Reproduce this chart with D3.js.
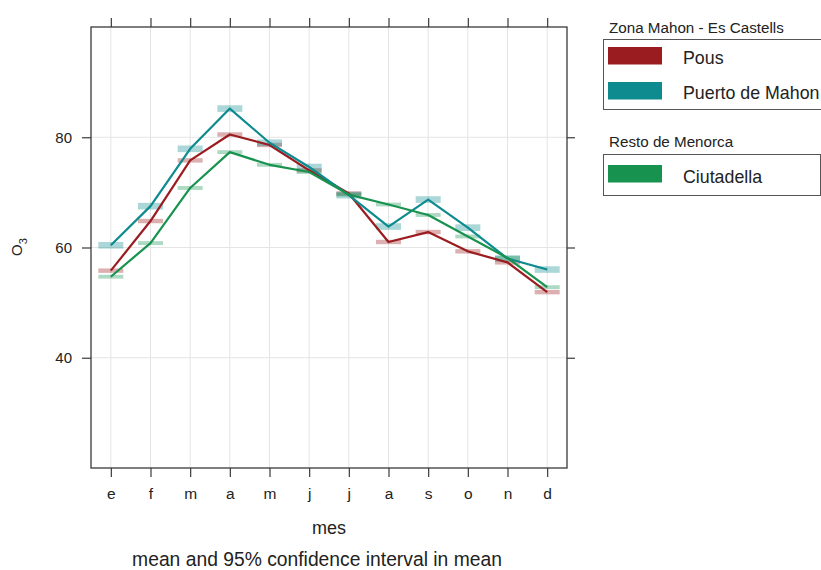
<!DOCTYPE html>
<html><head><meta charset="utf-8">
<script src="https://cdn.jsdelivr.net/npm/d3@7"></script>
<style>body{margin:0;background:#fff;}svg{display:block;font-family:Arial,"Liberation Sans",sans-serif;}</style>
</head><body>
<svg id="c" width="821" height="570"></svg>
<script>
const months = ["e","f","m","a","m","j","j","a","s","o","n","d"];
const yTicks = [40, 60, 80];
const seriesNames = ["Pous", "Puerto de Mahon", "Ciutadella"];
const seriesColors = ["#9b1c20", "#0d8b8f", "#17924f"];
const pous     = [55.8, 64.8, 75.8, 80.5, 78.6, 74.0, 69.8, 61.0, 62.8, 59.3, 57.3, 51.9];
const puerto   = [60.4, 67.5, 77.9, 85.2, 79.0, 74.6, 69.5, 63.8, 68.7, 63.6, 58.0, 56.0];
const ciut     = [54.7, 60.8, 70.8, 77.3, 75.0, 73.7, 69.6, 67.8, 65.9, 62.0, 58.1, 52.8];
const pousCI   = [0.4, 0.4, 0.4, 0.4, 0.4, 0.4, 0.4, 0.4, 0.4, 0.4, 0.4, 0.4];
const puertoCI = [0.6, 0.6, 0.6, 0.6, 0.6, 0.6, 0.6, 0.6, 0.6, 0.6, 0.6, 0.6];
const ciutCI   = [0.35, 0.35, 0.35, 0.35, 0.35, 0.35, 0.35, 0.35, 0.35, 0.35, 0.35, 0.35];
const legendGroups = ["Zona Mahon - Es Castells", "Resto de Menorca"];

const series = [
  {name: seriesNames[0], color: seriesColors[0], v: pous, ci: pousCI},
  {name: seriesNames[1], color: seriesColors[1], v: puerto, ci: puertoCI},
  {name: seriesNames[2], color: seriesColors[2], v: ciut, ci: ciutCI}
];

const svg = d3.select("#c");
const L = 91, R = 567, T = 27, B = 468;
const idx = months.map((m, i) => i);
const x = d3.scalePoint().domain(idx).range([L, R]).padding(0.5);
const y = d3.scaleLinear().domain([20, 100]).range([B, T]);

// grid
const g = svg.append("g");
g.selectAll("line.vg").data(idx).enter().append("line")
  .attr("x1", d => x(d)).attr("x2", d => x(d)).attr("y1", T).attr("y2", B)
  .attr("stroke", "#e4e4e4").attr("stroke-width", 1);
g.selectAll("line.hg").data(yTicks).enter().append("line")
  .attr("x1", L).attr("x2", R).attr("y1", d => y(d)).attr("y2", d => y(d))
  .attr("stroke", "#e4e4e4").attr("stroke-width", 1);

// CI bars
series.forEach(s => {
  g.selectAll(null).data(idx).enter().append("rect")
    .attr("x", d => x(d) - 12.5).attr("width", 25)
    .attr("y", d => y(s.v[d] + s.ci[d]))
    .attr("height", d => y(s.v[d] - s.ci[d]) - y(s.v[d] + s.ci[d]))
    .attr("fill", s.color).attr("fill-opacity", 0.35);
});

// lines
const line = d3.line().x(d => x(d.i)).y(d => y(d.v));
series.forEach(s => {
  g.append("path").datum(s.v.map((v, i) => ({i, v})))
    .attr("d", line).attr("fill", "none")
    .attr("stroke", s.color).attr("stroke-width", 2.2).attr("stroke-linejoin", "round");
});

// axes
const frameColor = "#3a3a3a";
const axB = d3.axisBottom(x).tickSize(9).tickFormat(d => months[d]);
const axT = d3.axisTop(x).tickSize(9).tickFormat("");
const axL = d3.axisLeft(y).tickValues(yTicks).tickSize(9);
const axR = d3.axisRight(y).tickValues(yTicks).tickSize(8).tickFormat("");
function styleAxis(sel) {
  sel.select(".domain").remove();
  sel.selectAll(".tick line").attr("stroke", frameColor).attr("stroke-width", 1.2);
  sel.selectAll(".tick text").attr("fill", "#222").style("font-size", "15px")
     .style("font-family", "Arial, 'Liberation Sans', sans-serif");
}
svg.append("g").attr("transform", `translate(0,${B})`).call(axB).call(styleAxis)
  .selectAll(".tick text").attr("dy", null).attr("y", 31).style("font-size", "15.5px");
svg.append("g").attr("transform", `translate(0,${T})`).call(axT).call(styleAxis);
svg.append("g").attr("transform", `translate(${L},0)`).call(axL).call(styleAxis)
  .selectAll(".tick text").attr("x", -19);
svg.append("g").attr("transform", `translate(${R},0)`).call(axR).call(styleAxis);

svg.append("rect").attr("x", L).attr("y", T).attr("width", R - L).attr("height", B - T)
  .attr("fill", "none").attr("stroke", frameColor).attr("stroke-width", 1.3);

// axis titles
svg.append("text").attr("x", 329).attr("y", 534).attr("text-anchor", "middle")
  .style("font-size", "18px").attr("fill", "#222").text("mes");
svg.append("text").attr("x", 317).attr("y", 566).attr("text-anchor", "middle")
  .style("font-size", "19.3px").attr("fill", "#222").text("mean and 95% confidence interval in mean");
const yl = svg.append("text").attr("transform", "translate(22,247) rotate(-90)")
  .attr("text-anchor", "middle").style("font-size", "15px").attr("fill", "#222");
yl.append("tspan").text("O");
yl.append("tspan").attr("dy", 5).style("font-size", "11px").text("3");

// legend
const lg = svg.append("g");
const groups = [
  {title: legendGroups[0], ty: 32.5, box: [603, 39, 240, 70], items: [0, 1], sy: [47, 82], ly: [64, 99]},
  {title: legendGroups[1], ty: 147, box: [603, 154, 217, 41], items: [2], sy: [165], ly: [183]}
];
groups.forEach(gr => {
  lg.append("text").attr("x", 609).attr("y", gr.ty).style("font-size", "15.2px")
    .attr("fill", "#222").text(gr.title);
  lg.append("rect").attr("x", gr.box[0] + 0.5).attr("y", gr.box[1] + 0.5)
    .attr("width", gr.box[2]).attr("height", gr.box[3])
    .attr("fill", "none").attr("stroke", "#555").attr("stroke-width", 1);
  gr.items.forEach((k, j) => {
    lg.append("rect").attr("x", 608).attr("y", gr.sy[j]).attr("width", 54).attr("height", 17.5)
      .attr("fill", series[k].color);
    lg.append("text").attr("x", 683).attr("y", gr.ly[j]).style("font-size", "17.8px")
      .attr("fill", "#222").text(series[k].name);
  });
});
</script>
</body></html>
